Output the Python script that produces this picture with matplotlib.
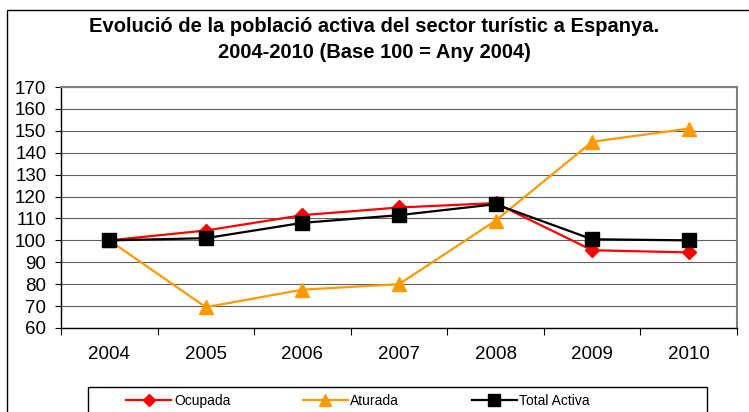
import matplotlib.pyplot as plt
from matplotlib.patches import Rectangle

anys = ['2004', '2005', '2006', '2007', '2008', '2009', '2010']
ocupada = [100, 104.5, 111.5, 115, 117, 95.5, 94.5]
aturada = [100, 69.5, 77.5, 80, 109, 145, 151]
total_activa = [100, 101, 108, 111.5, 116.5, 100.5, 100]
y_ticks = list(range(60, 171, 10))

plt.rcParams['font.family'] = ['Liberation Sans', 'DejaVu Sans']

W, H = 749, 412
fig = plt.figure(figsize=(W / 100, H / 100), dpi=100)
ax = fig.add_axes([61 / W, (H - 328) / H, 676 / W, 241 / H])

# marc exterior del gràfic i caixa de la llegenda
fig.patches.append(Rectangle((7 / W, -0.2), 1.2, 1.2 - 10 / H,
                             transform=fig.transFigure, fill=False,
                             edgecolor='black', linewidth=1.0, zorder=0))
fig.patches.append(Rectangle((88 / W, -0.2), (707 - 88) / W, 0.2 + (H - 387) / H,
                             transform=fig.transFigure, fill=False,
                             edgecolor='black', linewidth=1.0, zorder=0))

x = list(range(len(anys)))
ax.plot(x, ocupada, color='#FF0000', lw=1.6, marker='D', ms=7.5,
        label='Ocupada', zorder=3)
ax.plot(x, aturada, color='#FF9900', lw=1.6, marker='^', ms=10.5,
        label='Aturada', zorder=3)
ax.plot(x, total_activa, color='black', lw=1.6, marker='s', ms=10.5,
        label='Total Activa', zorder=4)

ax.set_xlim(-0.5, len(anys) - 0.5)
ax.set_ylim(60, 170)
ax.set_yticks(y_ticks)
ax.set_yticklabels([str(v) for v in y_ticks], fontsize=13.5)
ax.set_xticks(x)
ax.set_xticklabels(anys, fontsize=13.5)
ax.set_xticks([i - 0.5 for i in range(len(anys) + 1)], minor=True)
ax.tick_params(axis='x', which='major', length=0, pad=13)
ax.tick_params(axis='x', which='minor', length=5, width=0.8, direction='out')
ax.tick_params(axis='y', length=4.5, width=0.8, pad=6)

ax.grid(axis='y', color='#606060', lw=0.8)
ax.set_axisbelow(True)
for s in ('top', 'right'):
    ax.spines[s].set_color('#808080')
    ax.spines[s].set_linewidth(1.5)
for s in ('left', 'bottom'):
    ax.spines[s].set_color('black')
    ax.spines[s].set_linewidth(1.0)

fig.text(0.5, 1 - 27 / H,
         'Evolució de la població activa del sector turístic a Espanya.',
         ha='center', va='center', fontsize=14.5, fontweight='bold')
fig.text(0.5, 1 - 52 / H, '2004-2010 (Base 100 = Any 2004)',
         ha='center', va='center', fontsize=14.5, fontweight='bold')

fig.legend(loc='center left', ncol=3, frameon=False,
           bbox_to_anchor=(126 / W, 1 - 401 / H), borderpad=0,
           borderaxespad=0, fontsize=10, handlelength=3.25,
           handletextpad=0.2, columnspacing=5.2, markerscale=0.85)

plt.savefig('out.png', dpi=100)
